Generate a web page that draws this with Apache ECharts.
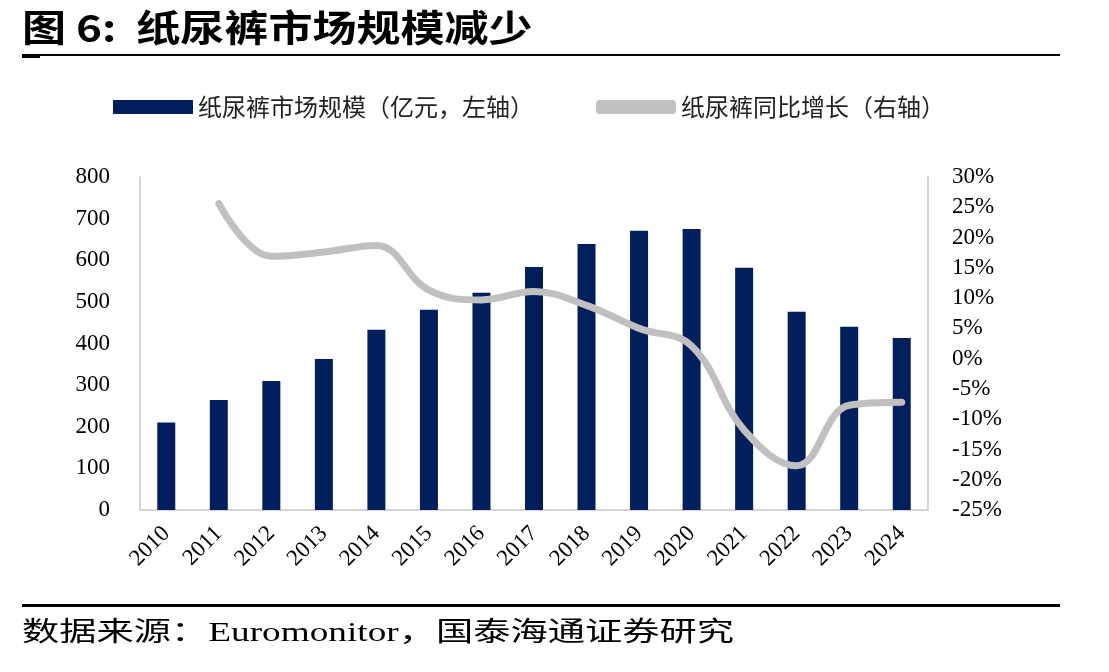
<!DOCTYPE html>
<html>
<head>
<meta charset="utf-8">
<script src="https://cdn.jsdelivr.net/npm/echarts@6/dist/echarts.min.js"></script>
<style>
  html, body { margin: 0; padding: 0; background: #fff; }
  #chart { width: 1109px; height: 672px; }
</style>
</head>
<body>
<div id="chart"></div>
<script>
const years = ['2010', '2011', '2012', '2013', '2014', '2015', '2016', '2017', '2018', '2019', '2020', '2021', '2022', '2023', '2024']
const marketSize = [210, 264, 310, 363, 433, 481, 522, 584, 639, 671, 675, 582, 476, 440, 413]
const growth = [null, 25.6, 16.9, 17.6, 18.7, 11.3, 9.7, 11.1, 8.8, 5.0, 2.1, -11.8, -17.7, -7.7, -7.2]

const serif = "'Liberation Serif', 'Times New Roman', 'Noto Sans CJK SC', serif"
const cjk = "'Noto Sans CJK SC', 'Liberation Serif', serif"

const chart = echarts.init(document.getElementById('chart'))

chart.setOption({
  animation: false,
  backgroundColor: '#fff',
  graphic: [
    { type: 'text', x: 22, y: 9, scaleX: 1.19, style: { text: '图 6:  纸尿裤市场规模减少', font: 'bold 37px ' + cjk, fill: '#000' } },
    { type: 'rect', shape: { x: 22, y: 54, width: 1038, height: 2 }, style: { fill: '#000' } },
    { type: 'rect', shape: { x: 22, y: 56, width: 18, height: 2 }, style: { fill: '#000' } },
    { type: 'rect', shape: { x: 22, y: 604, width: 1038, height: 3 }, style: { fill: '#000' } },
    { type: 'text', x: 22, y: 620, scaleX: 1.38, style: { text: '数据来源：Euromonitor，国泰海通证券研究', font: '27px ' + serif, fill: '#000' } }
  ],
  legend: {
    top: 90,
    left: 108,
    itemWidth: 80,
    itemHeight: 14,
    itemGap: 62,
    textStyle: { fontFamily: cjk, fontSize: 24, color: '#222' },
    data: [
      { name: '纸尿裤市场规模（亿元，左轴）', icon: 'rect' },
      { name: '纸尿裤同比增长（右轴）', icon: 'roundRect', itemStyle: { color: '#c0c0c0' } }
    ]
  },
  grid: { left: 140, right: 181, top: 177, bottom: 162 },
  xAxis: {
    type: 'category',
    data: years,
    axisLine: { lineStyle: { color: '#c8c8c8', width: 1.5 } },
    axisTick: { show: false },
    axisLabel: { rotate: 45, margin: 20, fontFamily: serif, fontSize: 23, color: '#000' }
  },
  yAxis: [
    {
      type: 'value', min: 0, max: 800, interval: 100,
      axisLine: { show: true, lineStyle: { color: '#c8c8c8', width: 1.5 } },
      axisTick: { show: false },
      splitLine: { show: false },
      axisLabel: { margin: 30, fontFamily: serif, fontSize: 23, color: '#000' }
    },
    {
      type: 'value', min: -25, max: 30, interval: 5,
      axisLine: { show: true, lineStyle: { color: '#c8c8c8', width: 1.5 } },
      axisTick: { show: false },
      splitLine: { show: false },
      axisLabel: { margin: 24, fontFamily: serif, fontSize: 23, color: '#000', formatter: '{value}%' }
    }
  ],
  series: [
    {
      name: '纸尿裤市场规模（亿元，左轴）',
      type: 'bar',
      data: marketSize,
      barWidth: 18,
      itemStyle: { color: '#001f5c' }
    },
    {
      name: '纸尿裤同比增长（右轴）',
      type: 'line',
      yAxisIndex: 1,
      data: growth,
      smooth: 0.4,
      symbol: 'none',
      lineStyle: { color: '#c0c0c0', width: 7, cap: 'round' },
      itemStyle: { color: '#c0c0c0' }
    }
  ]
})
</script>
</body>
</html>
